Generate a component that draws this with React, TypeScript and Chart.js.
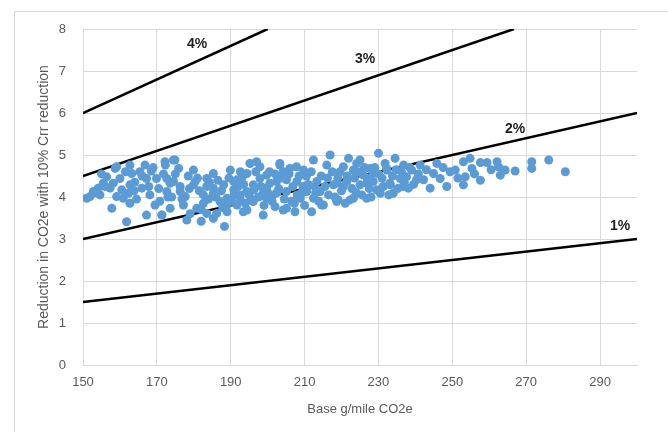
import React, { useEffect, useRef } from "react";
import { Chart, registerables } from "chart.js";

Chart.register(...registerables);

// Scatter: [Base g/mile CO2e, Reduction in CO2e with 10% Crr reduction]
const vehiclePoints: [number, number][] = [
  [151.0, 3.97], [152.8, 4.13], [154.1, 4.21], [155.5, 4.33], [156.4, 4.48], [158.7, 4.68], [157.3, 4.21],
  [158.2, 4.33], [160.0, 4.44], [160.5, 4.17], [160.9, 3.97], [162.7, 4.76], [163.2, 4.56], [162.7, 4.29],
  [162.3, 4.09], [162.7, 3.85], [157.8, 3.73], [161.8, 3.41], [165.4, 4.6], [166.8, 4.76], [167.2, 4.44],
  [165.9, 4.21], [168.1, 4.05], [167.2, 3.57], [169.5, 3.81], [169.9, 4.44], [171.3, 3.57], [154.6, 4.05],
  [151.9, 4.01], [159.1, 4.01], [159.1, 4.72], [172.2, 4.84], [174.9, 4.88], [173.6, 4.33], [153.5, 4.1],
  [156.0, 4.25], [164.0, 4.35], [168.5, 4.62], [170.5, 4.2], [155.0, 4.55],
  [161.5, 4.6], [163.8, 4.15], [164.5, 3.95], [166.0, 4.5], [167.8, 4.25], [169.0, 4.7], [170.8, 3.9],
  [171.8, 4.55], [173.0, 4.0], [175.0, 4.55], [176.8, 3.95], [178.8, 4.2], [179.0, 3.6], [181.0, 4.45],
  [182.0, 3.7], [184.2, 4.35],
  [174.5, 4.88], [172.3, 4.76], [175.9, 4.68], [179.9, 4.64], [183.5, 4.44], [185.3, 4.56], [189.9, 4.64],
  [192.6, 4.6], [172.7, 4.44], [174.5, 4.37], [172.7, 4.13], [176.3, 4.13], [179.9, 4.29], [182.6, 4.05],
  [185.3, 4.21], [188.1, 4.29], [190.8, 4.37], [173.6, 3.73], [177.2, 3.81], [180.8, 3.73], [183.5, 3.61],
  [178.1, 3.45], [182.0, 3.42], [188.3, 3.3], [185.3, 3.49], [189.0, 3.65], [191.7, 3.81], [189.0, 3.97],
  [192.6, 4.05], [171.4, 3.57], [177.7, 4.01], [180.4, 4.37], [183.5, 4.25], [182.6, 3.85], [185.3, 4.09],
  [187.1, 3.89], [186.2, 3.61], [188.9, 3.81], [190.8, 4.17], [191.7, 4.41], [192.6, 3.93], [194.4, 4.56],
  [195.3, 4.8], [196.2, 4.17], [194.4, 3.69], [176.3, 4.25], [174.0, 4.0], [178.5, 4.5], [186.5, 4.4],
  [193.5, 4.3],
  [186.0, 4.0], [187.5, 4.15], [189.5, 4.45], [190.2, 3.9], [191.0, 4.05], [192.0, 4.25], [193.0, 4.45],
  [194.0, 3.85], [195.0, 4.05], [196.8, 4.6], [197.5, 4.0], [198.2, 4.25], [199.0, 3.8], [184.0, 3.95],
  [181.5, 4.15], [187.8, 3.75],
  [195.2, 4.8], [197.9, 4.72], [203.3, 4.8], [206.0, 4.68], [212.4, 4.88], [209.7, 4.64], [193.4, 4.52],
  [193.4, 3.65], [198.8, 3.57], [202.0, 3.77], [205.1, 3.73], [207.4, 3.65], [211.9, 3.65], [214.6, 3.81],
  [196.1, 3.89], [196.1, 4.29], [199.7, 4.21], [199.7, 4.52], [202.4, 4.37], [205.1, 4.13], [207.9, 4.37],
  [210.6, 4.13], [213.3, 4.37], [214.2, 4.13], [201.5, 4.05], [194.3, 4.13], [197.9, 4.44], [204.2, 4.6],
  [208.8, 3.97], [212.4, 3.97], [197.0, 4.84], [199.7, 3.97], [204.2, 3.69], [203.3, 4.76], [207.8, 4.72],
  [209.6, 4.25], [205.1, 4.41], [200.6, 4.33], [198.5, 4.05], [203.0, 4.2], [206.5, 3.9], [210.5, 4.5],
  [213.0, 4.1], [195.5, 3.95], [208.0, 4.05],
  [200.5, 4.6], [201.2, 3.9], [202.5, 4.1], [203.8, 4.45], [204.5, 3.95], [205.8, 4.55], [206.8, 4.25],
  [207.2, 3.85], [208.5, 4.5], [209.2, 4.1], [210.0, 3.8], [211.0, 4.3], [211.8, 4.6], [212.8, 4.25],
  [213.8, 3.9], [214.5, 4.5], [215.5, 4.25], [202.0, 4.55], [200.0, 4.1],
  [216.9, 5.0], [230.0, 5.04], [221.9, 4.92], [225.0, 4.88], [234.5, 4.92], [215.1, 3.81], [218.7, 3.89],
  [222.3, 3.93], [226.8, 3.97], [230.5, 4.09], [233.2, 4.29], [235.9, 4.44], [219.6, 4.6], [223.2, 4.64],
  [227.7, 4.68], [232.3, 4.64], [217.8, 4.29], [221.4, 4.37], [225.0, 4.29], [228.6, 4.37], [216.0, 4.76],
  [225.9, 4.52], [236.8, 4.76], [220.5, 4.72], [224.1, 4.8], [228.6, 4.56], [229.5, 4.17], [232.2, 4.68],
  [233.1, 4.33], [236.7, 4.25], [234.0, 4.09], [231.3, 4.25], [226.8, 4.33], [218.7, 4.33], [219.1, 3.93],
  [223.2, 3.97], [237.6, 4.48], [239.0, 4.64], [240.3, 4.41], [238.1, 4.21], [216.5, 4.05], [220.0, 4.15],
  [224.0, 4.1], [227.5, 4.2], [231.0, 4.45], [221.5, 4.5],
  [216.2, 4.45], [217.5, 4.6], [218.2, 4.0], [219.0, 4.45], [220.5, 4.25], [221.0, 3.85], [222.8, 4.2],
  [223.5, 4.45], [224.5, 4.6], [225.5, 4.05], [226.2, 4.7], [227.0, 4.45], [228.0, 4.0], [229.0, 4.7],
  [230.0, 4.55], [231.8, 4.8], [232.8, 4.05], [233.8, 4.5], [234.8, 4.65], [235.2, 4.2], [236.2, 4.6],
  [237.0, 4.35], [238.5, 4.7], [239.5, 4.3], [240.8, 4.55],
  [241.3, 4.76], [242.2, 4.41], [244.0, 4.21], [244.9, 4.56], [245.8, 4.8], [246.7, 4.44], [248.5, 4.25],
  [249.4, 4.6], [250.8, 4.64], [253.0, 4.84], [254.8, 4.92], [253.5, 4.48], [253.0, 4.29], [255.3, 4.68],
  [257.6, 4.82], [259.4, 4.82], [257.6, 4.4], [262.1, 4.84], [262.5, 4.72], [263.0, 4.52], [264.3, 4.64],
  [267.0, 4.62], [271.5, 4.84], [271.5, 4.68], [276.1, 4.88], [280.6, 4.6],
  [243.0, 4.65], [247.5, 4.7], [251.5, 4.45], [256.0, 4.55], [260.5, 4.65],
];

// Reference lines (percent reduction of base)
const rateLabels = ["1%", "2%", "3%", "4%"];
const lineStartX = [150, 150, 150, 150];
const lineStartY = [1.5, 3, 4.5, 6];
const lineEndX = [300, 300, 266.67, 200];
const lineEndY = [3, 6, 8, 8];
const labelX = [295.4, 267.0, 226.4, 180.9];
const labelY = [3.31, 5.62, 7.29, 7.64];

const xTicks = [150, 170, 190, 210, 230, 250, 270, 290];
const xTitle = "Base g/mile CO2e";
const yTitle = "Reduction in CO2e with 10% Crr reduction";

const FONT = "'Liberation Sans', Arial, sans-serif";

export default function App() {
  const ref = useRef<HTMLCanvasElement | null>(null);

  useEffect(() => {
    if (!ref.current) return;

    const labelPlugin = {
      id: "rateLabels",
      afterDatasetsDraw(chart: any) {
        const { ctx, scales } = chart;
        ctx.save();
        ctx.font = `bold 14px ${FONT}`;
        ctx.fillStyle = "#1f1f1f";
        ctx.textAlign = "center";
        ctx.textBaseline = "middle";
        rateLabels.forEach((t, i) => {
          ctx.fillText(t, scales.x.getPixelForValue(labelX[i]), scales.y.getPixelForValue(labelY[i]));
        });
        ctx.restore();
      },
    };

    const lineSets = rateLabels.map((t, i) => ({
      type: "line" as const,
      label: t,
      data: [
        { x: lineStartX[i], y: lineStartY[i] },
        { x: lineEndX[i], y: lineEndY[i] },
      ],
      borderColor: "#000000",
      borderWidth: 2.5,
      pointRadius: 0,
      fill: false,
      order: 1,
    }));

    const chart = new Chart(ref.current, {
      type: "scatter",
      data: {
        datasets: [
          {
            type: "scatter" as const,
            label: "Vehicles",
            data: vehiclePoints.map(([x, y]) => ({ x, y })),
            backgroundColor: "#5B9BD5",
            borderColor: "#5B9BD5",
            borderWidth: 0,
            pointRadius: 4.5,
            order: 0,
          },
          ...lineSets,
        ] as any,
      },
      options: {
        animation: false,
        responsive: false,
        maintainAspectRatio: false,
        layout: { padding: { top: 29, right: 31, left: 0, bottom: 0 } },
        plugins: { legend: { display: false }, tooltip: { enabled: false } },
        scales: {
          x: {
            type: "linear",
            min: 150,
            max: 300,
            afterBuildTicks: (scale: any) => {
              scale.ticks = xTicks.map((v) => ({ value: v }));
            },
            afterFit: (scale: any) => {
              scale.height = 67;
            },
            grid: { color: "#d9d9d9", drawTicks: false, lineWidth: 1 },
            border: { color: "#d9d9d9" },
            ticks: { color: "#595959", font: { family: FONT, size: 13 }, padding: 10 },
            title: {
              display: true,
              text: xTitle,
              color: "#595959",
              font: { family: FONT, size: 13 },
              padding: { top: 0, bottom: 15 },
            },
          },
          y: {
            type: "linear",
            min: 0,
            max: 8,
            ticks: { stepSize: 1, color: "#595959", font: { family: FONT, size: 13 }, padding: 17 },
            afterFit: (scale: any) => {
              scale.width = 83;
            },
            grid: { color: "#d9d9d9", drawTicks: false, lineWidth: 1 },
            border: { color: "#d9d9d9" },
            title: {
              display: true,
              text: yTitle,
              color: "#595959",
              font: { family: FONT, size: 14 },
              padding: { top: 36, bottom: 0 },
            },
          },
        },
      },
      plugins: [labelPlugin],
    } as any);

    return () => chart.destroy();
  }, []);

  return (
    <div style={{ position: "absolute", left: 0, top: 0, width: 668, height: 432, background: "#fff" }}>
      <div
        style={{
          position: "absolute",
          left: 14,
          top: 11,
          width: 700,
          height: 440,
          borderTop: "1px solid #d9d9d9",
          borderLeft: "1px solid #d9d9d9",
        }}
      />
      <canvas ref={ref} width={668} height={432} style={{ position: "absolute", left: 0, top: 0 }} />
    </div>
  );
}
